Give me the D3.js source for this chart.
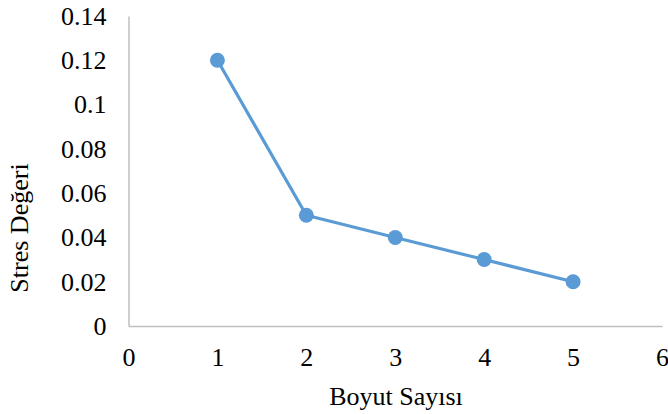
<!DOCTYPE html>
<html>
<head>
<meta charset="utf-8">
<script src="https://cdn.jsdelivr.net/npm/d3@7"></script>
<style>
  body { margin: 0; background: #fff; }
  svg text { font-family: "Liberation Serif", "Times New Roman", serif !important; fill: #000; }
</style>
</head>
<body>
<svg id="chart" width="668" height="414"></svg>
<script>
const dimensions = [1, 2, 3, 4, 5];
const stressValues = [0.12, 0.05, 0.04, 0.03, 0.02];
const xTicks = [0, 1, 2, 3, 4, 5, 6];
const yTicks = [0, 0.02, 0.04, 0.06, 0.08, 0.1, 0.12, 0.14];

const svg = d3.select("#chart");
const margin = { left: 128.5, right: 6, top: 16, bottom: 88 };
const width = 668, height = 414;
const serif = "'Liberation Serif', 'Times New Roman', serif";

const x = d3.scaleLinear().domain([0, 6]).range([margin.left, width - margin.right]);
const y = d3.scaleLinear().domain([0, 0.14]).range([height - margin.bottom, margin.top]);

// axes
const xAxis = svg.append("g")
    .attr("transform", `translate(0,${y(0)})`)
    .call(d3.axisBottom(x).tickValues(xTicks).tickSize(0).tickPadding(22).tickFormat(d3.format("d")));
const yAxis = svg.append("g")
    .attr("transform", `translate(${x(0)},0)`)
    .call(d3.axisLeft(y).tickValues(yTicks).tickSize(0).tickPadding(22).tickFormat(d => d === 0 ? "0" : String(+d.toFixed(2))));

[xAxis, yAxis].forEach(g => {
    g.attr("font-family", null).style("font-family", serif).attr("font-size", 26);
    g.select(".domain").attr("stroke", "#bfbfbf").attr("stroke-width", 1.5);
    g.selectAll("text").style("font-family", serif).style("font-size", "26px").attr("fill", "#000");
});

// line
const line = d3.line().x((d, i) => x(dimensions[i])).y(d => y(d));
svg.append("path")
    .datum(stressValues)
    .attr("d", line)
    .attr("fill", "none")
    .attr("stroke", "#5b9bd5")
    .attr("stroke-width", 3.2)
    .attr("stroke-linejoin", "round");

svg.selectAll("circle.pt")
    .data(stressValues)
    .enter()
    .append("circle")
    .attr("class", "pt")
    .attr("cx", (d, i) => x(dimensions[i]))
    .attr("cy", d => y(d))
    .attr("r", 7.5)
    .attr("fill", "#5b9bd5");

// titles
svg.append("text")
    .attr("x", 396)
    .attr("y", 405)
    .attr("text-anchor", "middle")
    .style("font-size", "26px")
    .text("Boyut Sayısı");

svg.append("text")
    .attr("transform", "translate(28,228) rotate(-90)")
    .attr("text-anchor", "middle")
    .style("font-size", "26px")
    .text("Stres Değeri");
</script>
</body>
</html>
